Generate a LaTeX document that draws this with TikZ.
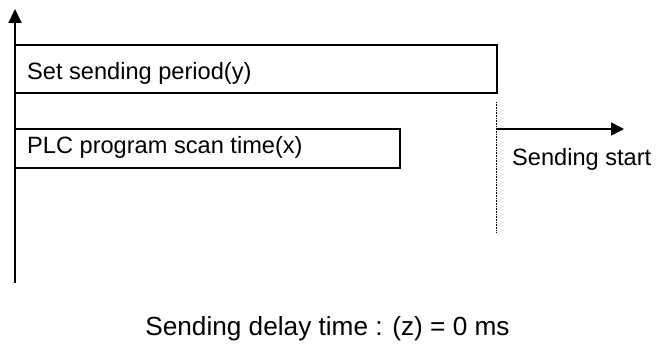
\documentclass[tikz,border=0pt]{standalone}
\usepackage{fontspec}
\setmainfont{Liberation Sans}
\usetikzlibrary{arrows.meta}
\begin{document}
\begin{tikzpicture}[x=1pt,y=-1pt,
  lbl/.style={font=\fontsize{23.6}{27}\selectfont, inner sep=0pt},
  biglbl/.style={font=\fontsize{26.2}{30}\selectfont, inner sep=0pt},
  barbox/.style={draw, line width=2pt},
  axisline/.style={line width=2pt, -{Triangle[length=14pt,width=13pt]}}]
\useasboundingbox (0,0) rectangle (656,345);
\coordinate (ab) at (15,283);
\coordinate (at) at (15,9);
\draw[axisline] (ab) -- (at);
\draw[barbox] (15,45) rectangle (497,93);
\node[lbl, anchor=base west] (y) at (27,80) {Set sending period(y)};
\draw[barbox] (15,129) rectangle (400,168);
\node[lbl, anchor=base west] (x) at (27,153.5) {PLC program scan time(x)};
\coordinate (dt) at (496,102);
\coordinate (db) at (496,232);
\draw[densely dotted, line width=0.6pt] (dt) -- (db);
\coordinate (s0) at (496,129);
\coordinate (s1) at (624,129);
\draw[line width=1.5pt, -{Triangle[length=13pt,width=13pt]}] (s0) -- (s1);
\node[lbl, anchor=base west] (ss) at (512,165) {Sending start};
\node[biglbl, anchor=base] (dl) at (327.5,335) {Sending delay time : (z) = 0 ms};
\end{tikzpicture}
\end{document}
